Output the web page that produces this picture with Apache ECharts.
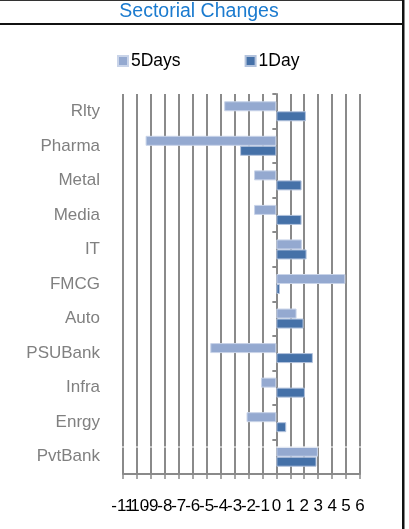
<!DOCTYPE html>
<html>
<head>
<meta charset="utf-8">
<script src="https://cdn.jsdelivr.net/npm/echarts@6/dist/echarts.min.js"></script>
<style>
  html, body { margin: 0; padding: 0; background: #fff; }
  #chart { width: 409px; height: 529px; }
</style>
</head>
<body>
<div id="chart"></div>
<script>
// sectors, top to bottom as shown
const categories = ["Rlty", "Pharma", "Metal", "Media", "IT", "FMCG", "Auto", "PSUBank", "Infra", "Enrgy", "PvtBank"];
const fiveDays = [-3.74, -9.38, -1.6, -1.6, 1.83, 4.95, 1.45, -4.74, -1.1, -2.14, 2.98];
const oneDay = [2.12, -2.6, 1.81, 1.81, 2.17, 0.26, 1.95, 2.62, 2.05, 0.71, 2.88];
const xMin = -11;
const xMax = 6;

const gridGray = "#8a8a8a";
const font = "'Liberation Sans', Arial, sans-serif";
const tickFont = { color: "#000", fontSize: 17, fontFamily: font, margin: 24 };

const chart = echarts.init(document.getElementById("chart"));

const barStyle = (border) => ({
  type: "bar",
  barWidth: 10,
  barGap: "0%",
  silent: true,
  emphasis: { disabled: true },
  blur: { itemStyle: { opacity: 1 } },
  itemStyle: { borderColor: border, borderWidth: 1, opacity: 1 },
});

const option = {
  animation: false,
  color: ["#94a9d0", "#4571a8"],
  title: {
    text: "Sectorial Changes",
    left: 199,
    textAlign: "center",
    top: 2,
    padding: 0,
    textStyle: { color: "#1b7bcf", fontSize: 19.5, fontWeight: "normal", fontFamily: font },
  },
  legend: {
    left: 117,
    top: 52,
    padding: 0,
    itemWidth: 10,
    itemHeight: 10,
    itemGap: 64,
    icon: "rect",
    selectedMode: false,
    textStyle: { color: "#000", fontSize: 17.5, fontFamily: font, padding: [0, 0, 0, -2] },
    data: ["5Days", "1Day"],
  },
  grid: { left: 123, right: 49, top: 94, bottom: 55 },
  xAxis: [
    {
      type: "value",
      min: xMin,
      max: xMax,
      interval: 1,
      axisLine: { show: true, lineStyle: { color: gridGray, width: 2 } },
      axisTick: { show: false },
      splitLine: { show: true, lineStyle: { color: gridGray, width: 2 } },
      axisLabel: Object.assign({ showMinLabel: false, showMaxLabel: true, hideOverlap: false }, tickFont),
    },
    {
      // bottom ticks, plus the min label the main axis drops when crowded
      type: "value",
      position: "bottom",
      min: xMin,
      max: xMax,
      interval: 1,
      axisLine: { show: false },
      axisTick: { show: true, length: 5, lineStyle: { color: gridGray, width: 1.5 } },
      splitLine: { show: false },
      axisLabel: Object.assign({
        showMinLabel: true,
        hideOverlap: false,
        formatter: (v) => (v === xMin ? String(v) : ""),
      }, tickFont),
    },
  ],
  yAxis: [
    {
      // labels at the left edge
      type: "category",
      inverse: true,
      data: categories,
      axisLine: { show: false, onZero: false },
      axisTick: { show: false },
      axisLabel: { color: "#808080", fontSize: 17, fontFamily: font, margin: 23 },
    },
    {
      // axis line through zero
      type: "category",
      inverse: true,
      data: categories,
      position: "left",
      axisLine: { show: true, onZero: true, lineStyle: { color: gridGray, width: 2 } },
      axisTick: { show: true, length: 4, lineStyle: { color: gridGray, width: 2 } },
      axisLabel: { show: false },
    },
  ],
  series: [
    Object.assign({ name: "5Days", data: fiveDays }, barStyle("#c9d4e9")),
    Object.assign({ name: "1Day", data: oneDay }, barStyle("#b3c3dd")),
  ],
  graphic: [
    // frame of the source image
    { type: "rect", silent: true, shape: { x: 0, y: 0, width: 403, height: 1 }, style: { fill: "#333" }, z: 100 },
    { type: "rect", silent: true, shape: { x: 0, y: 23, width: 403, height: 2 }, style: { fill: "#111" }, z: 100 },
    { type: "rect", silent: true, shape: { x: 402, y: 0, width: 2.5, height: 529 }, style: { fill: "#111" }, z: 100 },
    // white seam across the plot
    { type: "rect", silent: true, shape: { x: 115, y: 446.5, width: 250, height: 1 }, style: { fill: "#fff" }, z: 100 },
  ],
};

chart.setOption(option);
</script>
</body>
</html>
